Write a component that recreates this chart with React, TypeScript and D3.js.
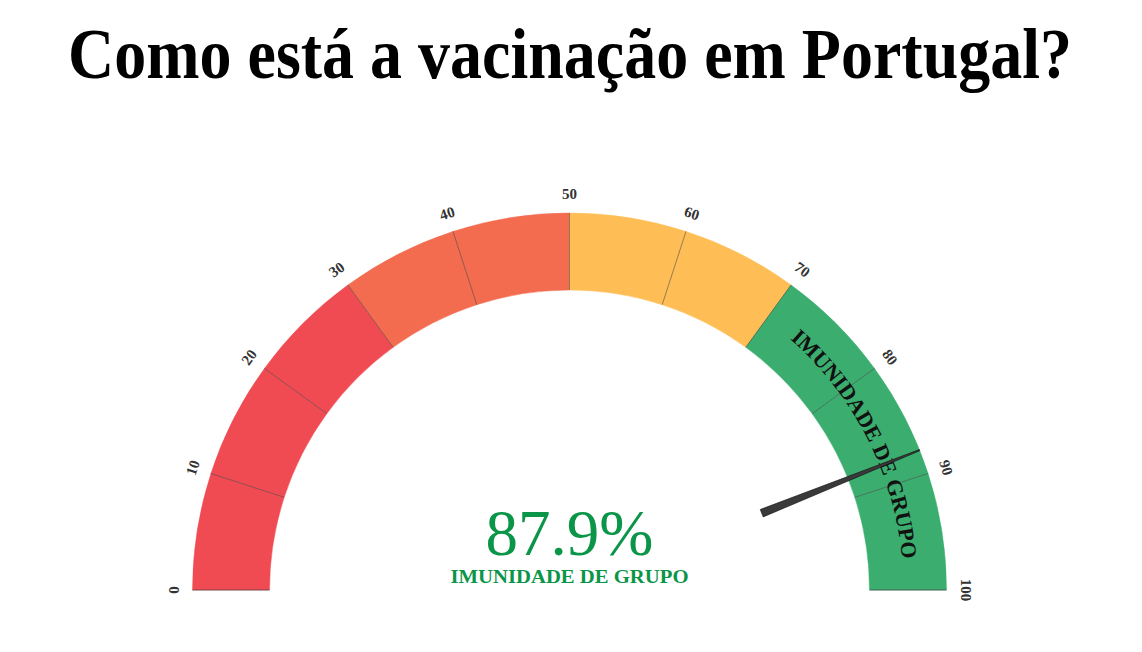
import React, { useEffect, useRef } from "react";
import * as d3 from "d3";

const title = "Como está a vacinação em Portugal?";
const bandLimits = [0, 30, 50, 70, 100];
const bandColors = ["#f04b53", "#f36c50", "#febe55", "#3bae6f"];
const ticks = [0, 10, 20, 30, 40, 50, 60, 70, 80, 90, 100];
const cells = [0, 10, 20, 30, 40, 50, 60, 70, 80, 90];
const zoneLabel = "IMUNIDADE DE GRUPO";
const zoneRange = [70, 100];
const currentValue = 87.9;

function App() {
  const svgRef = useRef<SVGSVGElement>(null);
  const width = 1142;
  const height = 652;
  const cx = 569.5;
  const cy = 590;
  const outerR = 377;
  const innerR = 300;

  useEffect(() => {
    const svg = d3.select(svgRef.current);
    svg.selectAll("*").remove();

    // title, squeezed horizontally to the reference width
    const titleG = svg.append("g");
    const titleText = titleG
      .append("text")
      .attr("x", 0)
      .attr("y", 0)
      .attr("text-anchor", "middle")
      .style("font-family", "'Liberation Serif', serif")
      .style("font-weight", "bold")
      .style("font-size", "71px")
      .text(title);
    const natural = (titleText.node() as SVGTextElement).getComputedTextLength() || 1004;
    titleG.attr("transform", `translate(570,78) scale(${1004 / natural},1)`);

    const angle = d3.scaleLinear().domain([0, 100]).range([-Math.PI / 2, Math.PI / 2]);
    const color = d3.scaleThreshold<number, string>().domain(bandLimits.slice(1, -1)).range(bandColors);

    const g = svg.append("g").attr("transform", `translate(${cx},${cy})`);

    const arc = d3.arc<any>().innerRadius(innerR).outerRadius(outerR);

    g.selectAll(".cell")
      .data(cells)
      .enter()
      .append("path")
      .attr("class", "cell")
      .attr("d", (d) => arc({ startAngle: angle(d), endAngle: angle(d + 10) }))
      .attr("fill", (d) => color(d + 5))
      .attr("stroke", (d) => color(d + 5))
      .attr("stroke-width", 0.5);

    // dividers
    g.selectAll(".div")
      .data(ticks)
      .enter()
      .append("line")
      .attr("x1", (d) => innerR * Math.sin(angle(d)))
      .attr("y1", (d) => -innerR * Math.cos(angle(d)))
      .attr("x2", (d) => outerR * Math.sin(angle(d)))
      .attr("y2", (d) => -outerR * Math.cos(angle(d)))
      .attr("stroke", "#444")
      .attr("stroke-opacity", (d) => (d === 0 || d === 100 ? 0.7 : 0.55))
      .attr("stroke-width", 1);

    // tick labels
    const labelR = 396;
    g.selectAll(".tick")
      .data(ticks)
      .enter()
      .append("text")
      .attr("transform", (d) => {
        const a = angle(d);
        const x = labelR * Math.sin(a);
        const y = -labelR * Math.cos(a);
        return `translate(${x},${y}) rotate(${(a * 180) / Math.PI})`;
      })
      .attr("text-anchor", "middle")
      .attr("dominant-baseline", "central")
      .style("font-family", "'Liberation Serif', serif")
      .style("font-weight", "bold")
      .style("font-size", "15px")
      .attr("fill", "#333")
      .text((d) => d);

    // label along the green zone
    const tr = 334;
    const a0 = angle(zoneRange[0]);
    const a1 = angle(zoneRange[1]);
    const pathD = `M${tr * Math.sin(a0)},${-tr * Math.cos(a0)} A${tr},${tr} 0 0 1 ${tr * Math.sin(a1)},${-tr * Math.cos(a1)}`;
    g.append("path").attr("id", "zonePath").attr("d", pathD).attr("fill", "none");
    g.append("text")
      .style("font-family", "'Liberation Serif', serif")
      .style("font-weight", "bold")
      .style("font-size", "22px")
      .attr("fill", "#111")
      .append("textPath")
      .attr("href", "#zonePath")
      .attr("startOffset", "50%")
      .attr("text-anchor", "middle")
      .text(zoneLabel);

    // needle
    const a = angle(currentValue);
    const ux = Math.sin(a);
    const uy = -Math.cos(a);
    const px = -uy;
    const py = ux;
    const r0 = 207;
    const r1 = 377;
    const w0 = 4;
    const w1 = 0.6;
    const pts: [number, number][] = [
      [r0 * ux + w0 * px, r0 * uy + w0 * py],
      [r1 * ux + w1 * px, r1 * uy + w1 * py],
      [r1 * ux - w1 * px, r1 * uy - w1 * py],
      [r0 * ux - w0 * px, r0 * uy - w0 * py],
    ];
    g.append("path")
      .attr("d", d3.line()(pts) + "Z")
      .attr("fill", "#3a3a3a")
      .attr("stroke", "#111")
      .attr("stroke-width", 0.6);

    // center value
    g.append("text")
      .attr("x", 0)
      .attr("y", -35)
      .attr("text-anchor", "middle")
      .style("font-family", "'Liberation Serif', serif")
      .style("font-size", "65px")
      .attr("fill", "#0a9548")
      .text(`${currentValue}%`);

    g.append("text")
      .attr("x", 0)
      .attr("y", -7)
      .attr("text-anchor", "middle")
      .attr("textLength", 238)
      .attr("lengthAdjust", "spacingAndGlyphs")
      .style("font-family", "'Liberation Serif', serif")
      .style("font-weight", "bold")
      .style("font-size", "18px")
      .attr("fill", "#0a9548")
      .text(zoneLabel);
  }, []);

  return (
    <svg
      ref={svgRef}
      width={width}
      height={height}
      style={{ position: "absolute", left: 0, top: 0, background: "#fff" }}
    />
  );
}

export default App;
